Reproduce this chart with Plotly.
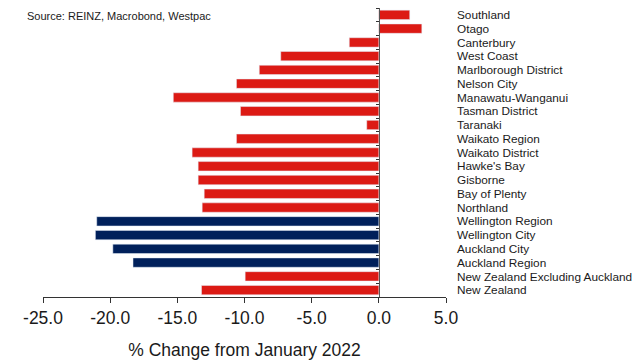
import plotly.graph_objects as go

regions = ["Southland", "Otago", "Canterbury", "West Coast", "Marlborough District",
           "Nelson City", "Manawatu-Wanganui", "Tasman District", "Taranaki",
           "Waikato Region", "Waikato District", "Hawke's Bay", "Gisborne",
           "Bay of Plenty", "Northland", "Wellington Region", "Wellington City",
           "Auckland City", "Auckland Region", "New Zealand Excluding Auckland",
           "New Zealand"]
changes = [2.3, 3.2, -2.2, -7.3, -8.9, -10.6, -15.3, -10.3, -0.9, -10.6, -13.9,
           -13.45, -13.45, -13.0, -13.15, -21.0, -21.1, -19.8, -18.3, -9.95, -13.2]
highlight = ["Wellington Region", "Wellington City", "Auckland City", "Auckland Region"]
x_ticks = [-25, -20, -15, -10, -5, 0, 5]
x_range = [-25, 5]

RED = "#dc1a14"
NAVY = "#00205b"
colors = [NAVY if r in highlight else RED for r in regions]

fig = go.Figure()
fig.add_trace(go.Bar(
    x=changes, y=regions, orientation="h",
    marker=dict(color=colors, line=dict(width=0)),
    width=0.68,
))
# invisible copy to carry the zero-line axis with category ticks
fig.add_trace(go.Bar(
    x=changes, y=regions, orientation="h", yaxis="y2",
    marker=dict(color="rgba(0,0,0,0)"), hoverinfo="skip", width=0.68,
))

zero_pos = (0 - x_range[0]) / (x_range[1] - x_range[0])

fig.update_layout(
    width=643, height=363,
    margin=dict(l=43, r=197, t=8, b=66),
    paper_bgcolor="white", plot_bgcolor="white",
    showlegend=False, barmode="overlay",
    font=dict(family="Liberation Sans, Arial, sans-serif", color="#1a1a1a"),
    xaxis=dict(
        range=x_range, tickvals=x_ticks,
        ticktext=[f"{v:.1f}" for v in x_ticks],
        tickfont=dict(size=17.5), ticks="outside", ticklen=5, tickcolor="#333",
        showline=True, linecolor="#333", linewidth=1,
        showgrid=False, zeroline=False,
        title=dict(text="% Change from January 2022", font=dict(size=17.5), standoff=16),
    ),
    yaxis=dict(
        autorange="reversed", side="right", showgrid=False, showline=False,
        tickmode="array", tickvals=regions, ticktext=regions,
        ticks="", tickfont=dict(size=11.8), ticklabelstandoff=10,
    ),
    yaxis2=dict(
        overlaying="y", anchor="free", position=zero_pos, side="left",
        autorange="reversed", showgrid=False, showline=True, linecolor="#555",
        linewidth=1, ticks="outside", tickson="boundaries", ticklen=3,
        tickcolor="#333", showticklabels=False,
        tickmode="array", tickvals=regions,
    ),
    annotations=[dict(
        text="Source: REINZ, Macrobond, Westpac", xref="paper", yref="paper",
        x=-0.045, y=1.0, xanchor="left", yanchor="top", showarrow=False,
        font=dict(size=11, color="#1a1a1a"),
    )],
)

fig.write_html("out.html")
